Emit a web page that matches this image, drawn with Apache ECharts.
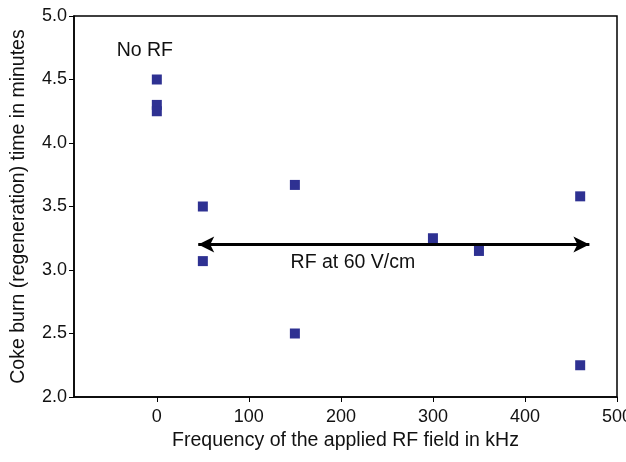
<!DOCTYPE html>
<html>
<head>
<meta charset="utf-8">
<script src="https://cdn.jsdelivr.net/npm/echarts@6/dist/echarts.min.js"></script>
<style>
  html, body { margin: 0; padding: 0; background: #fff; }
  #main { width: 626px; height: 462px; }
</style>
</head>
<body>
<div id="main"></div>
<script>
// frequency (kHz) and burn time (min)
var freq = [0, 0, 0, 50, 50, 150, 150, 300, 350, 460, 460];
var burnTime = [4.5, 4.3, 4.25, 3.5, 3.07, 3.67, 2.5, 3.25, 3.15, 3.58, 2.25];
var xTicks = [0, 100, 200, 300, 400, 500];
var arrowFrom = [45, 3.2];
var arrowTo = [470, 3.2];
var noRfAt = [-13, 4.73];
var rfLabelAt = [213, 3.055];

var points = freq.map(function (f, i) { return [f, burnTime[i]]; });

var myChart = echarts.init(document.getElementById('main'));
var font = 'Liberation Sans, Arial, sans-serif';

myChart.setOption({
  animation: false,
  textStyle: { fontFamily: font },
  grid: {
    left: 74, right: 9, top: 16, bottom: 65,
    outerBoundsMode: 'none',
    containLabel: false,
    show: true, borderColor: '#000', borderWidth: 1.5
  },
  xAxis: {
    type: 'value',
    min: -90,
    max: 500,
    name: 'Frequency of the applied RF field in kHz',
    nameLocation: 'middle',
    nameGap: 34,
    nameTextStyle: { fontSize: 19.5, color: '#111', fontFamily: font },
    axisLine: { onZero: false, lineStyle: { color: '#000', width: 1.5 } },
    axisTick: { show: true, length: 5, lineStyle: { color: '#000' }, customValues: xTicks },
    axisLabel: { customValues: xTicks, fontSize: 18, color: '#111', margin: 11, fontFamily: font },
    splitLine: { show: false }
  },
  yAxis: {
    type: 'value',
    min: 2,
    max: 5,
    interval: 0.5,
    name: 'Coke burn (regeneration) time in minutes',
    nameLocation: 'middle',
    nameGap: 45,
    nameTextStyle: { fontSize: 19.5, color: '#111', fontFamily: font },
    axisLine: { show: true, onZero: false, lineStyle: { color: '#000', width: 1.5 } },
    axisTick: { show: true, length: 5, lineStyle: { color: '#000' } },
    axisLabel: {
      fontSize: 18, color: '#111', margin: 7, fontFamily: font,
      formatter: function (v) { return v.toFixed(1); }
    },
    splitLine: { show: false }
  },
  series: [{
    type: 'scatter',
    data: points,
    symbol: 'rect',
    symbolSize: 10,
    itemStyle: { color: '#2e3192', opacity: 1 },
    markLine: {
      silent: true,
      symbol: ['arrow', 'arrow'],
      symbolSize: [12, 16],
      label: { show: false },
      lineStyle: { color: '#000', width: 3, type: 'solid' },
      data: [[{ coord: arrowFrom }, { coord: arrowTo }]]
    },
    markPoint: {
      silent: true,
      symbol: 'rect',
      symbolSize: 1,
      itemStyle: { color: 'rgba(0,0,0,0)' },
      label: { show: true, color: '#111', fontSize: 19.5, fontFamily: font, position: 'inside' },
      data: [
        { coord: noRfAt, label: { formatter: 'No RF' } },
        { coord: rfLabelAt, label: { formatter: 'RF at 60 V/cm' } }
      ]
    }
  }]
});
</script>
</body>
</html>
